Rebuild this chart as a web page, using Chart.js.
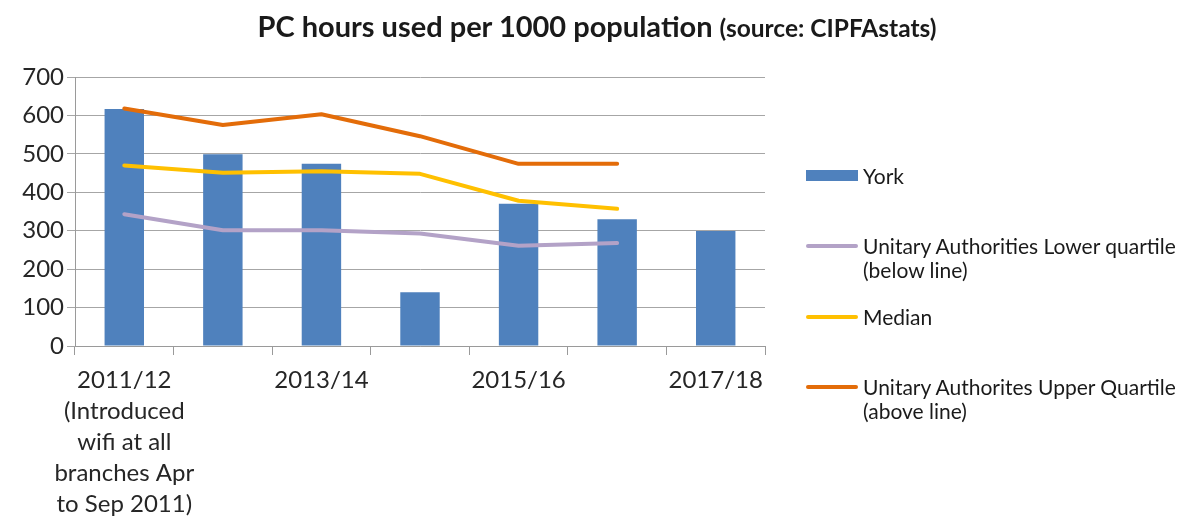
<!DOCTYPE html>
<html>
<head>
<meta charset="utf-8">
<script src="https://cdn.jsdelivr.net/npm/chart.js@4.4.1/dist/chart.umd.min.js"></script>
<style>
  body { margin: 0; background: #fff; }
  #wrap { position: relative; width: 1178px; height: 522px; font-family: Lato, "Open Sans", sans-serif; color: #1a1a1a; }
  #title { position: absolute; left: 0; width: 1178px; top: 8px; text-align: center; font-weight: bold; font-size: 29px; padding-left: 16px; box-sizing: border-box; line-height: 36px; }
  #title small { font-size: 24.5px; }
  .item { position: absolute; left: 806px; font-size: 21px; line-height: 24px; color: #1a1a1a; }
  .item span { position: absolute; left: 0; }
  .item div { position: absolute; left: 57px; white-space: nowrap; }
</style>
</head>
<body>
<div id="wrap">
  <canvas id="my-chart" width="1178" height="522"></canvas>
  <div id="title">PC hours used per 1000 population <small>(source: CIPFAstats)</small></div>
  <div id="legend"></div>
</div>
<script>
// Data
const years = ["2011/12", "2012/13", "2013/14", "2014/15", "2015/16", "2016/17", "2017/18"];
const firstYearNote = ["(Introduced", "wifi at all", "branches Apr", "to Sep 2011)"];
const york = [617, 499, 474, 140, 370, 330, 299];
const lowerQuartile = [343, 301, 301, 293, 261, 268, null];
const median = [470, 451, 455, 448, 378, 357, null];
const upperQuartile = [618, 575, 603, 546, 474, 474, null];
const yTicks = [0, 100, 200, 300, 400, 500, 600, 700];

const labels = years.map((y, i) => (i === 0 ? [y, ...firstYearNote] : y));

const colors = {
	york: "#4F81BD",
	lower: "#B3A2C7",
	median: "#FFC000",
	upper: "#E36C09",
};

// Legend (HTML, laid out like the original)
const legendItems = [
	{ text: ["York"], color: colors.york, bar: true, y: 176 },
	{ text: ["Unitary Authorities Lower quartile", "(below line)"], color: colors.lower, y: 246 },
	{ text: ["Median"], color: colors.median, y: 317 },
	{ text: ["Unitary Authorites Upper Quartile", "(above line)"], color: colors.upper, y: 387 },
];
const legend = document.getElementById("legend");
legendItems.forEach((item) => {
	const el = document.createElement("div");
	el.className = "item";
	el.style.top = item.y - 12 + "px";
	const sw = document.createElement("span");
	sw.style.width = "52px";
	sw.style.background = item.color;
	if (item.bar) {
		sw.style.height = "11px";
		sw.style.top = "6px";
	} else {
		sw.style.height = "4px";
		sw.style.top = "10px";
		sw.style.borderRadius = "2px";
	}
	el.appendChild(sw);
	const txt = document.createElement("div");
	txt.innerHTML = item.text.join("<br>");
	el.appendChild(txt);
	legend.appendChild(el);
});

const lineStyle = {
	type: "line",
	borderWidth: 4,
	pointRadius: 0,
	borderCapStyle: "round",
	borderJoinStyle: "round",
	tension: 0,
	order: 0,
};

const ctx = document.getElementById("my-chart").getContext("2d");

new Chart(ctx, {
	type: "bar",
	data: {
		labels: labels,
		datasets: [
			{ ...lineStyle, label: "Unitary Authorites Upper Quartile (above line)", data: upperQuartile, borderColor: colors.upper, backgroundColor: colors.upper },
			{ ...lineStyle, label: "Median", data: median, borderColor: colors.median, backgroundColor: colors.median },
			{ ...lineStyle, label: "Unitary Authorities Lower quartile (below line)", data: lowerQuartile, borderColor: colors.lower, backgroundColor: colors.lower },
			{
				type: "bar",
				label: "York",
				data: york,
				backgroundColor: colors.york,
				categoryPercentage: 1,
				barPercentage: 0.4,
				order: 2,
			},
		],
	},
	options: {
		responsive: false,
		animation: false,
		layout: { padding: { top: 77, right: 413, left: 0, bottom: 0 } },
		plugins: {
			legend: { display: false },
			tooltip: { enabled: false },
		},
		scales: {
			x: {
				offset: true,
				grid: {
					offset: true,
					drawOnChartArea: false,
					drawTicks: true,
					tickLength: 9,
					color: "#9a9a9a",
				},
				border: { color: "#9a9a9a" },
				ticks: {
					autoSkip: false,
					maxRotation: 0,
					padding: 10,
					color: "#262626",
					font: { family: "Lato", size: 24, lineHeight: 1.29 },
					callback: function (value, index) {
						return index % 2 === 0 ? this.getLabelForValue(value) : "";
					},
				},
				afterFit: (s) => { s.height = 176; },
			},
			y: {
				min: 0,
				max: 700,
				afterBuildTicks: (s) => { s.ticks = yTicks.map((v) => ({ value: v })); },
				grid: { color: "#a6a6a6", tickLength: 8 },
				border: { color: "#9a9a9a" },
				ticks: {
					padding: 3,
					color: "#262626",
					font: { family: "Lato", size: 24 },
				},
				afterFit: (s) => { s.width = 75; },
			},
		},
	},
});
</script>
</body>
</html>
